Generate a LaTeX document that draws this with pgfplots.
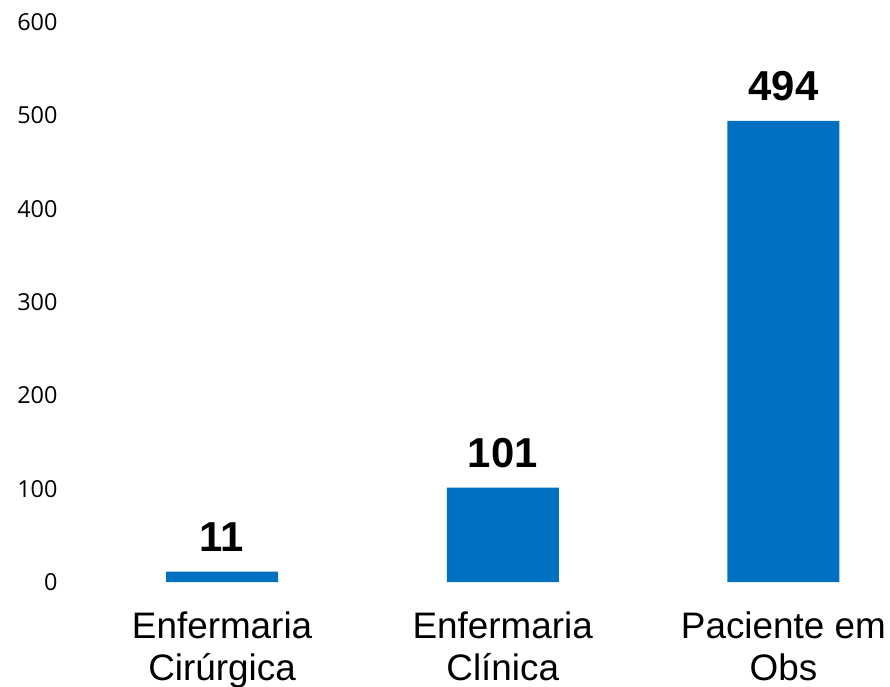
\documentclass[border=0pt]{standalone}
\usepackage{pgfplots}
\pgfplotsset{compat=1.18}
\usepackage{fontspec}
\setmainfont{Liberation Sans}
\newfontfamily\tickfont{Open Sans}
\definecolor{barblue}{HTML}{0070C0}
\begin{document}
\begin{tikzpicture}
\begin{axis}[name=ax, scale only axis, width=828bp, height=560bp,
  xmin=-0.55, xmax=2.4, ymin=0, ymax=600,
  axis line style={draw=none}, major tick length=0pt,
  ytick={0,100,...,600}, xtick={0,1,2},
  xticklabels={{Enfermaria\\Cirúrgica},{Enfermaria\\Clínica},{Paciente em\\Obs}},
  /pgf/number format/assume math mode=true,
  yticklabel style={font=\tickfont\fontsize{23.5}{27}\selectfont, inner sep=0pt, xshift=-10bp},
  xticklabel style={font=\fontsize{37}{42}\selectfont, align=center, inner sep=0pt, yshift=-30bp},
  ybar, bar width=112bp, bar shift=0pt,
  nodes near coords,
  nodes near coords style={font=\bfseries\fontsize{42}{46}\selectfont, inner sep=0pt, anchor=south, yshift=20bp},
]
\addplot[fill=barblue, draw=none] coordinates {(0,11) (1,101) (2,494)};
\end{axis}
\pgfresetboundingbox
\path[use as bounding box] ([xshift=-67.7bp,yshift=-105bp]ax.south west) rectangle ++(890bp,687bp);
\end{tikzpicture}
\end{document}
